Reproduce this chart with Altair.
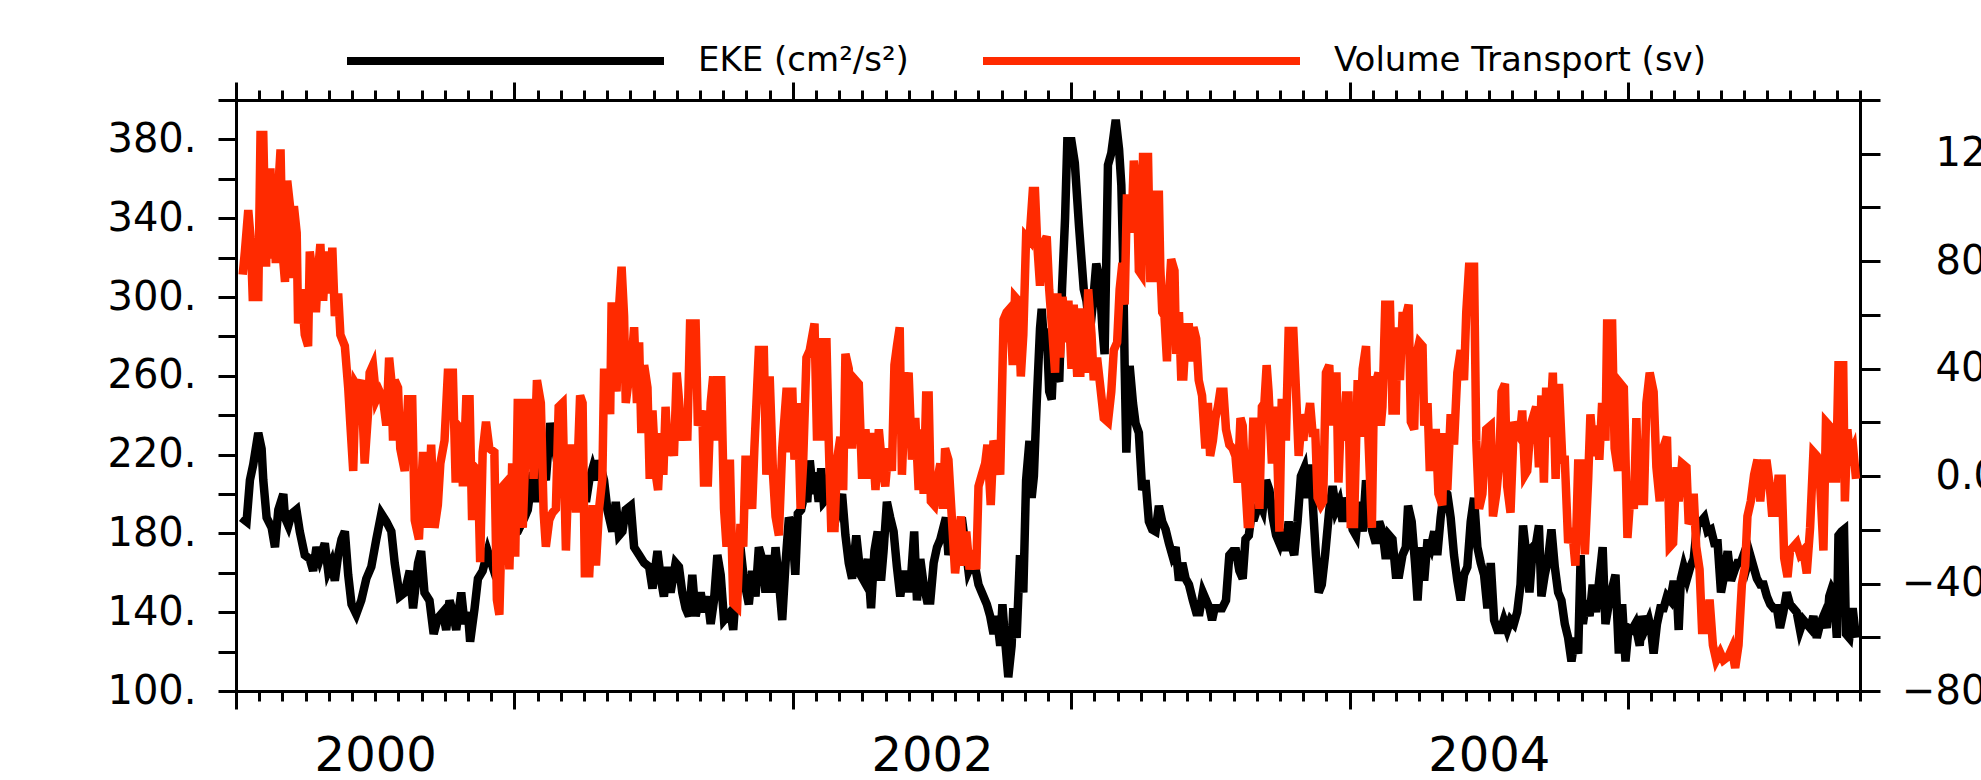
import altair as alt
import pandas as pd

EKE_NAME = "EKE (cm²/s²)"
VT_NAME = "Volume Transport (sv)"
BASE_YEAR = 2000

# Time is given in years since 1 Jan 2000.
eke_t = [0.020, 0.038, 0.050, 0.062, 0.080, 0.092, 0.098, 0.110, 0.128, 0.140, 0.152, 0.170, 0.176, 0.188, 0.200,
         0.217, 0.229, 0.247, 0.265, 0.277, 0.289, 0.301, 0.319, 0.331, 0.343, 0.355, 0.367, 0.379, 0.391, 0.403,
         0.415, 0.432, 0.450, 0.468, 0.486, 0.504, 0.522, 0.540, 0.558, 0.570, 0.588, 0.606, 0.624, 0.636, 0.654,
         0.665, 0.677, 0.695, 0.710, 0.725, 0.743, 0.755, 0.767, 0.779, 0.791, 0.809, 0.821, 0.833, 0.841, 0.857,
         0.869, 0.886, 0.904, 0.922, 0.940, 0.964, 0.988,
         1.012, 1.036, 1.048, 1.066, 1.078, 1.095, 1.113, 1.129, 1.143, 1.155, 1.173, 1.191, 1.209, 1.221, 1.239,
         1.257, 1.269, 1.281, 1.293, 1.304, 1.322, 1.334, 1.352, 1.364, 1.376, 1.388, 1.400, 1.418, 1.430, 1.448,
         1.466, 1.484, 1.496, 1.514, 1.526, 1.537, 1.549, 1.561, 1.579, 1.591, 1.603, 1.615, 1.627, 1.639, 1.651,
         1.669, 1.681, 1.693, 1.705, 1.717, 1.729, 1.741, 1.753, 1.765, 1.776, 1.786, 1.800, 1.812, 1.824, 1.842,
         1.854, 1.866, 1.878, 1.890, 1.902, 1.914, 1.926, 1.938, 1.950, 1.962, 1.974, 1.986, 1.997, 2.009,
         2.018, 2.030, 2.042, 2.052, 2.061, 2.073, 2.081, 2.093, 2.102, 2.111, 2.135, 2.159, 2.177, 2.189, 2.201,
         2.213, 2.228, 2.243, 2.255, 2.269, 2.281, 2.293, 2.305, 2.317, 2.326, 2.338, 2.350, 2.362, 2.374, 2.386,
         2.398, 2.410, 2.422, 2.436, 2.446, 2.458, 2.470, 2.482, 2.494, 2.506, 2.518, 2.530, 2.539, 2.550, 2.559,
         2.571, 2.583, 2.595, 2.607, 2.619, 2.631, 2.643, 2.655, 2.667, 2.679, 2.697, 2.709, 2.721, 2.733, 2.745,
         2.753, 2.763, 2.774, 2.786, 2.792, 2.804, 2.816, 2.828, 2.838, 2.850, 2.858, 2.866, 2.876, 2.888, 2.894,
         2.902, 2.912, 2.921, 2.930, 2.938, 2.948, 2.957, 2.967, 2.978, 2.986, 3.001, 3.013,
         3.028, 3.037, 3.045, 3.055, 3.067, 3.079, 3.090, 3.102, 3.112, 3.120, 3.126, 3.132, 3.144, 3.160, 3.172,
         3.180, 3.186, 3.192, 3.198, 3.210, 3.222, 3.231, 3.243, 3.255, 3.267, 3.279, 3.291, 3.303, 3.315, 3.327,
         3.339, 3.351, 3.363, 3.375, 3.387, 3.399, 3.411, 3.423, 3.437, 3.449, 3.461, 3.473, 3.485, 3.497, 3.506,
         3.515, 3.527, 3.542, 3.556, 3.568, 3.580, 3.592, 3.604, 3.616, 3.626, 3.638, 3.646, 3.658, 3.676, 3.688,
         3.700, 3.712, 3.724, 3.736, 3.748, 3.760, 3.769, 3.781, 3.793, 3.801, 3.813, 3.825, 3.837, 3.849, 3.861,
         3.869, 3.879, 3.889, 3.900, 3.912, 3.927, 3.939, 3.951, 3.963,
         3.975, 3.987, 3.999, 4.011, 4.023, 4.035, 4.047, 4.059, 4.068, 4.080, 4.094, 4.106, 4.118, 4.130, 4.142,
         4.154, 4.166, 4.178, 4.190, 4.202, 4.210, 4.223, 4.235, 4.244, 4.256, 4.268, 4.280, 4.292, 4.304, 4.315,
         4.327, 4.339, 4.351, 4.363, 4.375, 4.387, 4.399, 4.411, 4.423, 4.435, 4.447, 4.459, 4.471, 4.483, 4.495,
         4.507, 4.519, 4.531, 4.543, 4.554, 4.566, 4.578, 4.590, 4.602, 4.614, 4.623, 4.635, 4.646, 4.658, 4.670,
         4.680, 4.689, 4.701, 4.713, 4.725, 4.737, 4.749, 4.761, 4.773, 4.785, 4.797, 4.809, 4.821, 4.830, 4.838,
         4.850, 4.862, 4.873, 4.885, 4.897, 4.909, 4.919, 4.931, 4.943, 4.955, 4.967, 4.979, 4.991, 5.002, 5.014,
         5.026,
         5.042, 5.051, 5.063, 5.075, 5.083, 5.092, 5.104, 5.116, 5.128, 5.140, 5.152, 5.162, 5.174, 5.182, 5.190,
         5.200, 5.212, 5.224, 5.236, 5.248, 5.262, 5.274, 5.286, 5.298, 5.310, 5.322, 5.334, 5.346, 5.358, 5.370,
         5.382, 5.393, 5.405, 5.415, 5.427, 5.439, 5.451, 5.463, 5.475, 5.487, 5.499, 5.511, 5.523, 5.535, 5.546,
         5.558, 5.570, 5.582, 5.594, 5.606, 5.618, 5.630, 5.642, 5.654, 5.666, 5.678, 5.690, 5.702, 5.714, 5.723,
         5.732, 5.740, 5.750, 5.756, 5.767, 5.776, 5.783, 5.795, 5.807, 5.819]
eke_v = [188, 186, 207, 215, 231, 223, 207, 188, 183, 173, 192, 200, 188, 184, 190,
         192, 181, 169, 167, 161, 173, 167, 175, 161, 165, 156, 169, 177, 181, 159,
         144, 139, 146, 157, 163, 177, 190, 186, 181, 165, 148, 150, 161, 142, 165,
         171, 150, 146, 129, 137, 140, 131, 146, 140, 131, 150, 134, 140, 125, 142,
         157, 161, 171, 163, 170, 169, 179,
         181, 188, 192, 211, 196, 215, 207, 236, 227, 215, 207, 217, 206, 202, 215,
         196, 207, 213, 207, 217, 207, 192, 181, 196, 179, 181, 192, 194, 173, 169,
         165, 163, 152, 171, 157, 148, 163, 150, 165, 163, 150, 142, 138, 159, 138,
         150, 140, 148, 134, 146, 169, 159, 136, 138, 140, 131, 159, 173, 157, 144,
         161, 148, 173, 167, 150, 169, 150, 173, 156, 136, 165, 188, 184, 159,
         190, 192, 200, 196, 217, 200, 211, 196, 213, 196, 200, 190, 200, 179, 165,
         157, 179, 159, 156, 167, 142, 171, 181, 156, 171, 196, 188, 181, 163, 148,
         161, 152, 152, 181, 146, 167, 154, 146, 146, 165, 173, 177, 182, 188, 169,
         179, 179, 171, 188, 175, 161, 165, 163, 154, 150, 144, 138, 129, 138, 123,
         144, 125, 107, 123, 142, 127, 169, 150, 207, 227, 198, 209, 246, 284, 294,
         277, 284, 252, 248, 275, 261, 257, 304, 340, 379, 379, 368,
         336, 319, 304, 298, 282, 298, 317, 309, 284, 271, 319, 367, 373, 390, 375,
         357, 323, 265, 221, 265, 246, 236, 231, 202, 207, 186, 182, 181, 194, 186,
         182, 175, 169, 173, 156, 165, 157, 154, 146, 140, 140, 150, 146, 142, 136,
         142, 142, 142, 146, 169, 171, 171, 161, 157, 177, 179, 188, 188, 196, 192,
         207, 202, 188, 179, 175, 182, 171, 186, 173, 169, 186, 209, 213, 198, 215,
         192, 169, 150, 154, 169, 192, 204, 192, 196,
         186, 198, 192, 182, 179, 196, 181, 207, 196, 182, 175, 186, 181, 167, 179,
         177, 159, 159, 169, 173, 194, 186, 165, 146, 173, 156, 177, 173, 181, 169,
         188, 202, 200, 188, 169, 156, 146, 159, 163, 186, 198, 173, 165, 159, 142,
         165, 136, 131, 131, 136, 131, 136, 134, 140, 154, 184, 169, 150, 173, 175,
         184, 148, 159, 167, 182, 163, 150, 146, 134, 127, 115, 127, 119, 169, 134,
         146, 138, 154, 140, 157, 173, 134, 144, 152, 159, 119, 144, 115, 132, 131,
         134,
         123, 138, 132, 136, 131, 119, 134, 142, 142, 148, 146, 154, 154, 131, 157,
         163, 157, 163, 167, 184, 186, 188, 181, 182, 175, 175, 150, 159, 171, 156,
         161, 165, 165, 169, 163, 169, 163, 157, 154, 154, 148, 144, 142, 142, 132,
         140, 150, 144, 142, 140, 131, 136, 134, 132, 138, 127, 134, 138, 132, 148,
         152, 150, 127, 179, 181, 182, 129, 127, 142, 127]

vt_t = [0.024, 0.032, 0.044, 0.053, 0.060, 0.080, 0.088, 0.098, 0.108, 0.116, 0.124, 0.130, 0.137, 0.143, 0.152,
        0.160, 0.167, 0.176, 0.184, 0.194, 0.201, 0.208, 0.218, 0.223, 0.235, 0.247, 0.259, 0.265, 0.277, 0.287,
        0.295, 0.303, 0.313, 0.323, 0.337, 0.346, 0.355, 0.367, 0.375, 0.391, 0.403, 0.411, 0.421, 0.430, 0.438,
        0.450, 0.462, 0.474, 0.480, 0.492, 0.504, 0.516, 0.528, 0.540, 0.550, 0.558, 0.564, 0.570, 0.582, 0.590,
        0.606, 0.618, 0.633, 0.642, 0.657, 0.671, 0.683, 0.689, 0.701, 0.713, 0.725, 0.734, 0.749, 0.761, 0.779,
        0.789, 0.797, 0.809, 0.815, 0.827, 0.839, 0.848, 0.857, 0.869, 0.877, 0.886, 0.898, 0.910, 0.928, 0.937,
        0.946, 0.958, 0.970, 0.982, 0.992, 1.003, 1.012, 1.021,
        1.030, 1.038, 1.050, 1.062, 1.069, 1.081, 1.095, 1.105, 1.113, 1.125, 1.137, 1.149, 1.159, 1.173, 1.185,
        1.197, 1.209, 1.221, 1.236, 1.245, 1.253, 1.269, 1.281, 1.293, 1.304, 1.316, 1.322, 1.334, 1.344, 1.349,
        1.358, 1.367, 1.376, 1.385, 1.394, 1.400, 1.412, 1.420, 1.430, 1.440, 1.448, 1.456, 1.466, 1.478, 1.486,
        1.496, 1.508, 1.516, 1.526, 1.535, 1.543, 1.552, 1.561, 1.573, 1.583, 1.591, 1.601, 1.612, 1.621, 1.631,
        1.651, 1.659, 1.675, 1.681, 1.695, 1.705, 1.714, 1.719, 1.729, 1.743, 1.753, 1.762, 1.774, 1.786, 1.800,
        1.812, 1.822, 1.830, 1.842, 1.854, 1.862, 1.878, 1.896, 1.905, 1.917, 1.929, 1.938, 1.950, 1.962,
        1.978, 1.986, 1.998, 2.006, 2.018, 2.028, 2.037, 2.049, 2.061, 2.078, 2.087, 2.093, 2.102, 2.109, 2.121,
        2.129, 2.138, 2.150, 2.159, 2.171, 2.181, 2.189, 2.201, 2.213, 2.225, 2.237, 2.249, 2.261, 2.273, 2.285,
        2.297, 2.309, 2.320, 2.332, 2.344, 2.356, 2.365, 2.374, 2.384, 2.392, 2.404, 2.416, 2.428, 2.440, 2.452,
        2.460, 2.470, 2.479, 2.488, 2.496, 2.508, 2.520, 2.530, 2.539, 2.547, 2.559, 2.571, 2.583, 2.595, 2.604,
        2.613, 2.623, 2.635, 2.647, 2.659, 2.667, 2.679, 2.691, 2.699, 2.711, 2.721, 2.733, 2.745, 2.757, 2.768,
        2.780, 2.790, 2.798, 2.810, 2.819, 2.828, 2.838, 2.850, 2.862, 2.870, 2.878, 2.888, 2.900, 2.912, 2.921,
        2.933, 2.942, 2.950, 2.960, 2.969, 2.981, 2.990, 3.001,
        3.009, 3.021, 3.033, 3.040, 3.052, 3.061, 3.073, 3.081, 3.093, 3.105, 3.117, 3.132, 3.144, 3.153, 3.165,
        3.174, 3.184, 3.192, 3.200, 3.210, 3.216, 3.225, 3.236, 3.243, 3.252, 3.258, 3.276, 3.284, 3.294, 3.302,
        3.315, 3.320, 3.327, 3.335, 3.344, 3.351, 3.359, 3.371, 3.377, 3.387, 3.395, 3.403, 3.413, 3.423, 3.431,
        3.439, 3.449, 3.458, 3.470, 3.482, 3.491, 3.499, 3.509, 3.518, 3.527, 3.535, 3.547, 3.556, 3.568, 3.580,
        3.590, 3.598, 3.608, 3.616, 3.626, 3.634, 3.642, 3.654, 3.666, 3.676, 3.685, 3.694, 3.702, 3.709, 3.721,
        3.730, 3.739, 3.748, 3.756, 3.766, 3.771, 3.781, 3.798, 3.807, 3.817, 3.825, 3.834, 3.841, 3.849, 3.858,
        3.867, 3.877, 3.885, 3.897, 3.905, 3.915, 3.927, 3.936, 3.945, 3.953, 3.960, 3.969, 3.977, 3.987, 3.996,
        4.004, 4.016,
        4.029, 4.037, 4.047, 4.059, 4.068, 4.080, 4.088, 4.097, 4.104, 4.112, 4.118, 4.128, 4.145, 4.154, 4.166,
        4.172, 4.181, 4.190, 4.202, 4.212, 4.220, 4.232, 4.238, 4.250, 4.262, 4.268, 4.280, 4.288, 4.298, 4.310,
        4.319, 4.333, 4.339, 4.351, 4.363, 4.375, 4.387, 4.399, 4.411, 4.419, 4.429, 4.447, 4.455, 4.465, 4.477,
        4.491, 4.507, 4.515, 4.527, 4.537, 4.546, 4.558, 4.566, 4.578, 4.590, 4.602, 4.611, 4.620, 4.630, 4.638,
        4.650, 4.662, 4.670, 4.680, 4.689, 4.698, 4.706, 4.718, 4.730, 4.740, 4.752, 4.764, 4.773, 4.785, 4.799,
        4.811, 4.821, 4.833, 4.845, 4.857, 4.865, 4.877, 4.889, 4.897, 4.907, 4.919, 4.925, 4.943, 4.952, 4.964,
        4.974, 4.985,
        4.998, 5.011, 5.021, 5.030, 5.039, 5.047, 5.057, 5.066, 5.078, 5.092, 5.102, 5.114, 5.126, 5.140, 5.150,
        5.162, 5.174, 5.182, 5.194, 5.210, 5.218, 5.230, 5.236, 5.245, 5.257, 5.266, 5.281, 5.293, 5.305, 5.317,
        5.331, 5.343, 5.361, 5.373, 5.385, 5.397, 5.409, 5.421, 5.429, 5.441, 5.453, 5.465, 5.475, 5.487, 5.499,
        5.508, 5.517, 5.529, 5.540, 5.552, 5.561, 5.573, 5.582, 5.594, 5.606, 5.618, 5.630, 5.642, 5.654, 5.666,
        5.678, 5.690, 5.702, 5.711, 5.723, 5.732, 5.740, 5.747, 5.756, 5.773, 5.779, 5.788, 5.797, 5.809, 5.819]
vt_v = [75, 83.6, 99, 88, 66.7, 66.7, 127, 127, 78, 113, 113, 81, 93.4, 79.3, 107.5,
        121.6, 83.6, 72.3, 110, 100.5, 73.7, 100.5, 90.6, 56.8, 69.5, 52.6, 48.4, 83.6, 73.7, 61,
        76.5, 86.4, 65.3, 83.6, 68, 85, 59.6, 68, 52.6, 48.4, 32.9, 18.8, 1.9, 34.3, 32.9,
        35.7, 4.7, 23, 38.5, 41.3, 28.6, 31.4, 28.6, 18.8, 44.1, 35.7, 13.2, 35.7, 32.9, 10.3,
        1.9, 28.6, 28.6, -16.4, -23.5, 7.5, 7.5, -19.3, 11.7, -19.3, -10.8, 4.7, 13.2, 38.5, 38.5,
        -2.4, 18.8, 17.4, -3.8, 28.6, 28.6, -16.4, 3.3, 1.9, -32, 8.9, 20.2, 10.3, 8.9, -46,
        -51.6, -3.8, -2.4, -34.7, 4.7, -30, 27.2, 27.2,
        -19.3, 4.7, 27.2, 27.2, -1, 35.7, 27.2, -13.6, -26.3, -16.4, -13.6, -12.2, 25.8, 27.2, -27.7,
        10.3, 10.3, -13.6, 30, 27.2, -36.2, -36.2, -10.8, -33.3, -12.2, -1, 38.5, 38.5, 23, 63.1,
        63.1, 31.4, 63.1, 77.9, 59.6, 27.2, 37.1, 41.3, 55.4, 27.2, 49.8, 16, 41.3, 32.9, -1,
        24.4, 0.5, -5.2, 16, 0.5, 25.8, 7.5, 17.4, 7.5, 38.5, 28.6, 13.2, 23, 13.2, 56.8,
        56.8, 18.8, 24.4, -2.4, -2.4, 27.2, 37.1, 13.2, 35.7, 35.7, -12.2, -26.3, 6.1, -47.4, -48.8,
        -17.8, -26.3, 6.1, 6.1, -12.2, 10.3, 46.9, 46.9, 0.5, 37.1, 0.5, -15, -22.1, 10.3,
        32.9, 8.9, 32.9, 6.1, 27.2, -12.2, 4.7, 44.1, 46.9, 56.8, 13.2, 44.1, 13.2, 49.8, 49.8,
        13.2, -19.3, -19.3, 6.1, 14.6, -5.2, 45.5, 39.9, 10.3, 35.7, 34.3, -1, 17.4, -1, 16,
        -5.2, 17.4, 4.7, -3.8, 10.3, 1.9, 41.3, 48.4, 55.4, 0.5, 32.9, 38.5, 6.1, 21.6, -5.2,
        17.4, -6.6, 30, 30, -9.4, -10.8, -1, 4.7, -12.2, 10.3, 6.1, -15, -36.2, -23.5, -15,
        -33.3, -20.7, -34.7, -27.7, -34.7, -3.8, 0.5, 4.7, 11.7, -10.8, 13.2, 8.9, 0.5, 58.2, 61,
        62.4, 41.3, 66.7, 65.3, 37.1, 52.6, 89.2, 87.8, 106.1, 106.1, 86.4, 70.9, 86.4, 89.2, 69.5,
        52.6, 38.5, 68, 44.1, 66.7, 49.8, 65.3, 39.9,
        63.8, 38.5, 38.5, 62.4, 38.5, 69.5, 52.6, 35.7, 44.1, 32.9, 21.6, 20.2, 31.4, 46.9, 49.8,
        69.5, 79.3, 63.8, 103.3, 103.3, 90.6, 117.4, 107.5, 76.5, 75.1, 118.8, 118.8, 73.7, 73.7, 104.7,
        104.7, 77.9, 61, 59.6, 42.7, 66.7, 80.7, 76.5, 45.5, 61, 37.1, 37.1, 55.4, 55.4, 42.7,
        55.4, 51.2, 35.7, 30, 10.3, 27.2, 7.5, 13.2, 21.6, 25.8, 31.4, 31.4, 17.4, 11.7, 10.3,
        7.5, -2.4, 21.6, 18.8, -3.8, -17.8, -17.8, 20.2, 20.2, -12.2, 25.8, 27.2, 41.3, 31.4, 4.7,
        25.8, 13.2, -20.7, 27.2, 27.2, 13.2, 54, 54, 32.9, 7.5, 17.4, 13.2, 23, 20.2, 27.2,
        16, 16, -8, -10.8, -9.4, 38.5, 41.3, 18.8, 37.1, 37.1, -2.4, 23, 13.2, 30, 30,
        -17.8, -17.8,
        35.7, 14.6, 39.9, 48.4, 13.2, -19.3, 35.7, 35.7, 38.5, 18.8, 25.8, 63.8, 63.8, 24.4, 24.4,
        55.4, 35.7, 59.6, 59.6, 63.8, 20.2, 17.4, 44.1, 49.8, 48.4, 18.8, 27.2, 1.9, 16, 16,
        -6.6, -10.8, 16, -5.2, 23, 11.7, 38.5, 46.9, 35.7, 61, 77.9, 77.9, 13.2, -12.2, -6.6,
        17.4, 18.8, -15, -6.6, 4.7, 31.4, 34.3, -3.8, -13.6, 20.2, 16, 14.6, 24.4, 0.5, 1.9,
        18.8, 23, 25.8, 3.3, 30, -2.4, 32.9, 14.6, 38.5, -1, 34.3, 6.1, 6.1, -24.9, -19.3,
        -33.3, 4.7, 4.7, -29.1, -1, 23, 7.5, 18.8, 6.1, 27.2, 13.2, 56.8, 56.8, 10.3, 1.9,
        34.3, 32.9,
        -23, -3.8, -12.2, 21.6, -10.8, 13.2, -10.8, 27.2, 38.5, 31.4, 3.3, -9.4, 10.3, 14.6, -26.3,
        -24.9, 3.3, -9.4, 4.7, 3.3, -17.8, -15, -6.6, -26.3, -34.7, -57.3, -57.3, -46, -62.9, -68.5,
        -65.7, -68.5, -67.1, -64.3, -71.4, -62.9, -40.4, -33.3, -15, -9.4, 0.5, 6.1, -9.4, 4.7, 4.7,
        -2.4, -13.6, -13.6, -1, -1, -30.5, -37.6, -27.7, -26.3, -24.9, -29.1, -27.7, -36.2, -19.3, 8.9,
        7.5, -2.4, -27.7, 20.2, 18.8, -2.4, 17.4, -2.4, 41.3, 41.3, -9.4, 17.4, 7.5, 10.3, -1]

# Axis ticks and labels
month_ticks = [BASE_YEAR + m / 12 for m in range(0, 71)]
year_ticks = [BASE_YEAR + y for y in range(0, 6)]
year_label_pos = [2000.5, 2002.5, 2004.5]
eke_ticks = list(range(100, 401, 20))
eke_labels = {100: "100.", 140: "140.", 180: "180.", 220: "220.", 260: "260.", 300: "300.", 340: "340.",
              380: "380."}
vt_ticks = list(range(-80, 141, 20))
vt_labels = {120: "120.", 80: "80.0", 40: "40.0", 0: "0.00", -40: "\u221240.0", -80: "\u221280.0"}

RED = "#ff2a00"
FONT = "DejaVu Sans"
LINE_W = 8.5
X_END = BASE_YEAR + 70 / 12

eke_df = pd.DataFrame({"year": [BASE_YEAR + t for t in eke_t], "value": eke_v, "series": EKE_NAME})
vt_df = pd.DataFrame({"year": [BASE_YEAR + t for t in vt_t], "value": vt_v, "series": VT_NAME})
anchor_df = pd.DataFrame({"year": [float(BASE_YEAR)]})


def label_expr(mapping):
    parts = [f"datum.value == {k} ? '{v}'" for k, v in mapping.items()]
    return " : ".join(parts) + " : ''"


x_scale = alt.Scale(domain=[BASE_YEAR, X_END], nice=False, zero=False)

color = alt.Color(
    "series:N",
    scale=alt.Scale(domain=[EKE_NAME, VT_NAME], range=["black", RED]),
    legend=alt.Legend(
        orient="none", legendX=107, legendY=-59, direction="horizontal", title=None,
        symbolType="stroke", symbolSize=100489, symbolStrokeWidth=8,
        labelFont=FONT, labelFontSize=34, labelColor="black", labelOffset=30, labelLimit=600,
        columnPadding=70, clipHeight=40, padding=0,
    ),
)


def tick_axis(orient, values, size):
    return alt.Axis(
        orient=orient, values=values, tickSize=size, tickWidth=3, tickColor="black",
        labels=False, domain=True, domainWidth=3, domainColor="black", grid=False, title=None,
    )


eke_line = alt.Chart(eke_df).mark_line(strokeWidth=LINE_W).encode(
    x=alt.X("year:Q", scale=x_scale, axis=tick_axis("bottom", month_ticks, 10)),
    y=alt.Y(
        "value:Q",
        scale=alt.Scale(domain=[100, 400], nice=False, zero=False),
        axis=alt.Axis(
            orient="left", values=eke_ticks, tickSize=18, tickWidth=3, tickColor="black",
            domainWidth=3, domainColor="black", grid=False, title=None,
            labelExpr=label_expr(eke_labels), labelFont=FONT, labelFontSize=40, labelColor="black",
            labelPadding=22, labelOverlap=False,
        ),
    ),
    color=color,
)

vt_line = alt.Chart(vt_df).mark_line(strokeWidth=LINE_W).encode(
    x=alt.X("year:Q", scale=x_scale, axis=tick_axis("top", month_ticks, 10)),
    y=alt.Y(
        "value:Q",
        scale=alt.Scale(domain=[-80, 140], nice=False, zero=False),
        axis=alt.Axis(
            orient="right", values=vt_ticks, tickSize=20, tickWidth=3, tickColor="black",
            domainWidth=3, domainColor="black", grid=False, title=None,
            labelExpr=label_expr(vt_labels), labelFont=FONT, labelFontSize=40, labelColor="black",
            labelAlign="right", labelPadding=144, labelOverlap=False,
        ),
    ),
    color=color,
)


def axis_only(axis):
    return alt.Chart(anchor_df).mark_rule(strokeOpacity=0).encode(
        x=alt.X("year:Q", scale=x_scale, axis=axis)
    )


year_bottom = axis_only(alt.Axis(
    orient="bottom", values=year_ticks, tickSize=18, tickWidth=3, tickColor="black",
    labels=False, domain=False, grid=False, title=None,
))
year_top = axis_only(alt.Axis(
    orient="top", values=year_ticks, tickSize=18, tickWidth=3, tickColor="black",
    labels=False, domain=False, grid=False, title=None,
))
year_labels = axis_only(alt.Axis(
    orient="bottom", values=year_label_pos, ticks=False, tickSize=0, domain=False, grid=False, title=None,
    labelExpr="format(floor(datum.value), 'd')", labelFont=FONT, labelFontSize=48, labelColor="black",
    labelPadding=41, labelFlush=False, labelOverlap=False,
))

chart = (
    alt.layer(eke_line, vt_line, year_bottom, year_top, year_labels)
    .resolve_scale(y="independent")
    .resolve_axis(x="independent", y="independent")
    .properties(
        width=1624,
        height=591,
        padding={"left": 236, "top": 100, "right": 121, "bottom": 89},
        autosize=alt.AutoSizeParams(type="none"),
        background="white",
    )
    .configure_view(strokeWidth=0)
)

chart.save("out.html", embed_options={"renderer": "svg", "actions": False})
